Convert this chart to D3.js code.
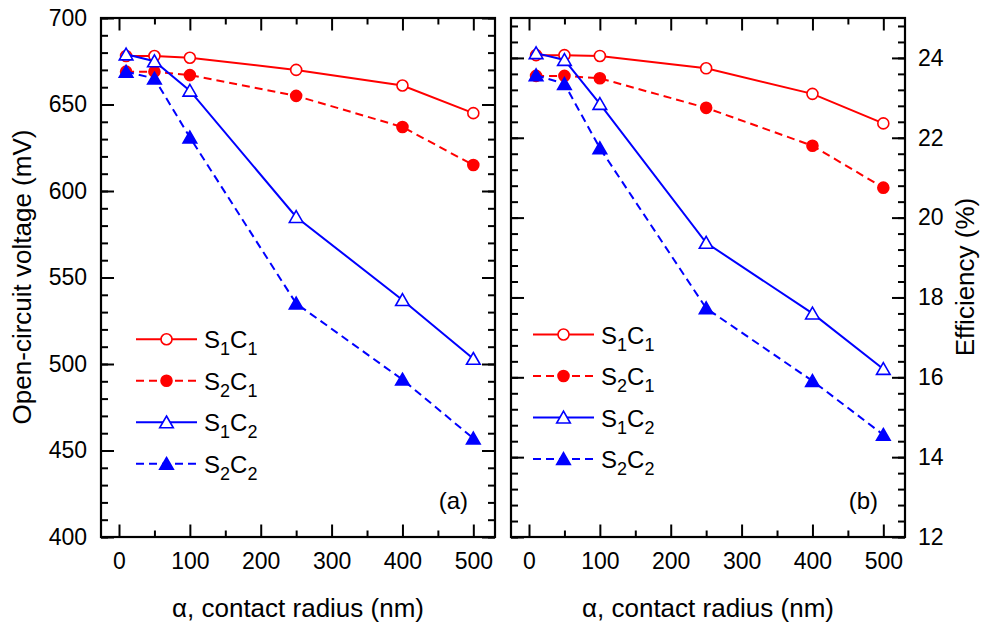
<!DOCTYPE html>
<html>
<head>
<meta charset="utf-8">
<script src="https://cdn.jsdelivr.net/npm/d3@7"></script>
<style>
  body { margin: 0; background: #fff; }
  svg { font-family: Arial, "Liberation Sans", sans-serif; }
</style>
</head>
<body>
<div id="chart"></div>
<script>
// contact radius (nm)
const radius = [10, 50, 100, 250, 400, 500];

// open-circuit voltage (mV), panel (a)
const vocS1C1 = [678, 678, 677, 670, 661, 645];
const vocS2C1 = [669, 669, 667, 655, 637, 615];
const vocS1C2 = [679, 675, 658, 585, 537, 503];
const vocS2C2 = [669, 665, 631, 535, 491, 457];

// efficiency (%), panel (b)
const effS1C1 = [24.07, 24.07, 24.05, 23.74, 23.10, 22.36];
const effS2C1 = [23.55, 23.55, 23.49, 22.75, 21.80, 20.75];
const effS1C2 = [24.12, 23.95, 22.85, 19.37, 17.60, 16.21];
const effS2C2 = [23.57, 23.35, 21.74, 17.73, 15.91, 14.56];

const seriesKeys = ["S1C1", "S2C1", "S1C2", "S2C2"];
const xTicks = [0, 100, 200, 300, 400, 500];
const vocTicks = [400, 450, 500, 550, 600, 650, 700];
const effTicks = [12, 14, 16, 18, 20, 22, 24];

const styles = {
    S1C1: {color: "#ff0000", dash: null, shape: "circle", filled: false, s: "1", c: "1"},
    S2C1: {color: "#ff0000", dash: "8,5", shape: "circle", filled: true, s: "2", c: "1"},
    S1C2: {color: "#0000ff", dash: null, shape: "triangle", filled: false, s: "1", c: "2"},
    S2C2: {color: "#0000ff", dash: "8,5", shape: "triangle", filled: true, s: "2", c: "2"}
};

const width = 982, height = 628;
const plotTop = 18, plotBottom = 537;

const svg = d3.select("#chart").append("svg")
    .attr("width", width)
    .attr("height", height);

const panels = [
    {
        x0: 101, x1: 495,
        data: {S1C1: vocS1C1, S2C1: vocS2C1, S1C2: vocS1C2, S2C2: vocS2C2},
        yDomain: [400, 700], yTicks: vocTicks, yMinor: d3.range(400, 701, 10),
        side: "left", label: "(a)", legendX: 136, legendY: 339.3
    },
    {
        x0: 511, x1: 905,
        data: {S1C1: effS1C1, S2C1: effS2C1, S1C2: effS1C2, S2C2: effS2C2},
        yDomain: [12, 25], yTicks: effTicks, yMinor: d3.range(12, 25.01, 0.4),
        side: "right", label: "(b)", legendX: 533, legendY: 334.5
    }
];

function markerPath(shape) {
    if (shape === "circle") return d3.symbol(d3.symbolCircle, 95)();
    return "M0,-6.3L6.8,5.5L-6.8,5.5Z";
}

panels.forEach(p => {
    const x = d3.scaleLinear().domain([-25.4, 530.6]).range([p.x0, p.x1]);
    const y = d3.scaleLinear().domain(p.yDomain).range([plotBottom, plotTop]);
    const g = svg.append("g");

    // ticks point inward on all four sides
    const minorX = d3.range(50, 501, 100);
    const axes = [
        {ax: d3.axisBottom(x).tickValues(xTicks).tickSize(-12.5), t: `translate(0,${plotBottom})`, lab: "x"},
        {ax: d3.axisBottom(x).tickValues(minorX).tickSize(-6.5), t: `translate(0,${plotBottom})`},
        {ax: d3.axisTop(x).tickValues(xTicks).tickSize(-12.5), t: `translate(0,${plotTop})`},
        {ax: d3.axisTop(x).tickValues(minorX).tickSize(-6.5), t: `translate(0,${plotTop})`},
        {ax: d3.axisLeft(y).tickValues(p.yTicks).tickSize(-13), t: `translate(${p.x0},0)`, lab: p.side === "left" ? "l" : null},
        {ax: d3.axisLeft(y).tickValues(p.yMinor).tickSize(-7), t: `translate(${p.x0},0)`},
        {ax: d3.axisRight(y).tickValues(p.yTicks).tickSize(-13), t: `translate(${p.x1},0)`, lab: p.side === "right" ? "r" : null},
        {ax: d3.axisRight(y).tickValues(p.yMinor).tickSize(-7), t: `translate(${p.x1},0)`}
    ];
    axes.forEach(a => {
        const ag = g.append("g").attr("transform", a.t).call(a.ax);
        ag.select(".domain").remove();
        ag.selectAll(".tick line").attr("stroke", "#000").attr("stroke-width", 2);
        if (!a.lab) {
            ag.selectAll(".tick text").remove();
            return;
        }
        const txt = ag.selectAll(".tick text")
            .attr("font-size", 23).attr("fill", "#000")
            .attr("font-family", "Arial, 'Liberation Sans', sans-serif");
        if (a.lab === "x") txt.attr("y", 16);
        if (a.lab === "l") txt.attr("x", -14);
        if (a.lab === "r") txt.attr("x", 13);
    });

    // frame
    g.append("rect")
        .attr("x", p.x0).attr("y", plotTop)
        .attr("width", p.x1 - p.x0).attr("height", plotBottom - plotTop)
        .attr("fill", "none").attr("stroke", "#000").attr("stroke-width", 2.2);

    // series
    seriesKeys.forEach(k => {
        const st = styles[k];
        const vals = p.data[k];
        const pts = radius.map((r, i) => [x(r), y(vals[i])]);
        g.append("path")
            .attr("d", d3.line()(pts))
            .attr("fill", "none")
            .attr("stroke", st.color)
            .attr("stroke-width", 2)
            .attr("stroke-dasharray", st.dash);
        g.selectAll(null).data(pts).enter().append("path")
            .attr("d", markerPath(st.shape))
            .attr("transform", d => `translate(${d[0]},${d[1]})`)
            .attr("fill", st.filled ? st.color : "#fff")
            .attr("stroke", st.color)
            .attr("stroke-width", 1.6);
    });

    // legend
    seriesKeys.forEach((k, i) => {
        const st = styles[k];
        const ly = p.legendY + i * 41.5;
        g.append("line")
            .attr("x1", p.legendX).attr("x2", p.legendX + 61)
            .attr("y1", ly).attr("y2", ly)
            .attr("stroke", st.color).attr("stroke-width", 2)
            .attr("stroke-dasharray", st.dash);
        g.append("path")
            .attr("d", markerPath(st.shape))
            .attr("transform", `translate(${p.legendX + 30.5},${ly})`)
            .attr("fill", st.filled ? st.color : "#fff")
            .attr("stroke", st.color).attr("stroke-width", 1.6);
        const t = g.append("text")
            .attr("x", p.legendX + 68).attr("y", ly + 9)
            .attr("font-size", 24).attr("fill", "#000");
        t.append("tspan").text("S");
        t.append("tspan").attr("font-size", 18).attr("dy", 7).text(st.s);
        t.append("tspan").attr("dy", -7).text("C");
        t.append("tspan").attr("font-size", 18).attr("dy", 7).text(st.c);
    });

    // panel label
    g.append("text")
        .attr("x", p.x1 - 27).attr("y", 509)
        .attr("text-anchor", "end")
        .attr("font-size", 24)
        .text(p.label);

    // x axis title
    g.append("text")
        .attr("x", (p.x0 + p.x1) / 2).attr("y", 617)
        .attr("text-anchor", "middle")
        .attr("font-size", 26)
        .text("\u03b1, contact radius (nm)");
});

// y axis titles
svg.append("text")
    .attr("transform", "translate(31,277) rotate(-90)")
    .attr("text-anchor", "middle")
    .attr("font-size", 26)
    .text("Open-circuit voltage (mV)");

svg.append("text")
    .attr("transform", "translate(974,277) rotate(-90)")
    .attr("text-anchor", "middle")
    .attr("font-size", 26)
    .text("Efficiency (%)");
</script>
</body>
</html>
